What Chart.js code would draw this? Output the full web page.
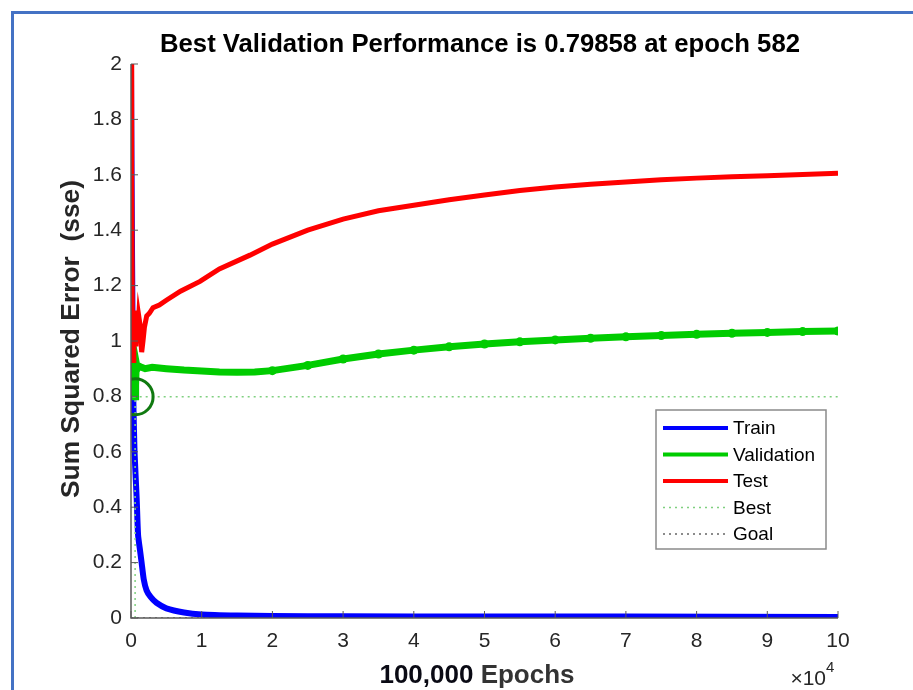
<!DOCTYPE html>
<html>
<head>
<meta charset="utf-8">
<script src="https://cdn.jsdelivr.net/npm/chart.js@4.4.1/dist/chart.umd.min.js"></script>
<style>
html,body{margin:0;padding:0;background:#fff;}
#wrap{position:relative;width:913px;height:690px;}
canvas{display:block;}
</style>
</head>
<body>
<div id="wrap"><canvas id="c" width="913" height="690"></canvas></div>
<script>
// ---- data (x in epochs) ----
const titleText = "Best Validation Performance is 0.79858 at epoch 582";
const yTitle = "Sum Squared Error  (sse)";
const xTitleA = "100,000";
const xTitleB = " Epochs";
const bestEpoch = 582;
const bestValue = 0.79858;
const goalValue = 0;
const maxEpoch = 100000;

const trainEpochs = [0,150,300,500,806,1000,1300,1500,1800,2200,2800,3600,5000,7500,10000,15000,20000,30000,50000,70000,100000];
const trainValues = [2.0,1.3,0.82,0.6,0.43,0.3,0.24,0.2,0.14,0.1,0.075,0.055,0.035,0.02,0.013,0.009,0.007,0.006,0.005,0.005,0.004];

const valEpochs = [0,100,200,300,400,500,582,650,750,900,1100,1500,2000,3000,5000,7500,10000,12500,15000,17500,20000,25000,30000,35000,40000,45000,50000,55000,60000,65000,70000,75000,80000,85000,90000,95000,100000];
const valValues = [1.0,0.93,0.92,0.88,0.84,0.81,0.79858,0.84,0.92,0.9,0.91,0.905,0.9,0.905,0.9,0.895,0.892,0.888,0.887,0.888,0.893,0.912,0.935,0.953,0.967,0.979,0.989,0.997,1.004,1.01,1.015,1.02,1.024,1.028,1.031,1.034,1.036];

const testEpochs = [0,100,200,300,400,500,600,700,806,950,1100,1273,1400,1513,1700,1900,2220,2600,3110,4000,5050,7000,9760,12500,16830,20000,25000,30000,35000,40000,45000,50000,55000,60000,65000,70000,75000,80000,85000,90000,95000,100000];
const testValues = [2.0,1.6,1.05,0.93,1.08,1.0,1.1,0.98,1.11,1.02,1.09,1.06,1.0,0.96,1.0,1.05,1.09,1.1,1.12,1.13,1.148,1.18,1.215,1.26,1.31,1.35,1.40,1.44,1.47,1.49,1.51,1.527,1.543,1.556,1.566,1.574,1.582,1.588,1.593,1.597,1.601,1.606];

const xTickStep = 10000;
const yTickStep = 0.2;

const pts = (xs, ys) => xs.map((x, i) => ({x: x, y: ys[i]}));

const FONT = "'Liberation Sans', Arial, sans-serif";

const PL = 131, PR = 838, PT = 64, PB = 618, W = 913, H = 690;

const decor = {
  id: 'decor',
  afterDatasetsDraw(chart) {
    const ctx = chart.ctx;
    const xs = chart.scales.x, ys = chart.scales.y;
    ctx.save();
    ctx.strokeStyle = '#5a5a5a';
    ctx.lineWidth = 1.5;
    ctx.beginPath();
    ctx.moveTo(xs.left, ys.top); ctx.lineTo(xs.left, ys.bottom); ctx.lineTo(xs.right, ys.bottom);
    ctx.stroke();
    ctx.lineWidth = 1;
    xs.ticks.forEach(t => {
      const px = xs.getPixelForValue(t.value);
      ctx.beginPath(); ctx.moveTo(px, ys.bottom); ctx.lineTo(px, ys.bottom - 7); ctx.stroke();
    });
    ys.ticks.forEach(t => {
      const py = ys.getPixelForValue(t.value);
      ctx.beginPath(); ctx.moveTo(xs.left, py); ctx.lineTo(xs.left + 7, py); ctx.stroke();
    });
    ctx.restore();
  },
  afterDraw(chart) {
    const ctx = chart.ctx;
    ctx.save();
    // frame
    ctx.strokeStyle = '#4472c4';
    ctx.lineWidth = 3;
    ctx.beginPath();
    ctx.moveTo(12.5, H + 5); ctx.lineTo(12.5, 12.5); ctx.lineTo(W + 5, 12.5);
    ctx.stroke();
    // title
    ctx.fillStyle = '#000';
    ctx.font = "bold 25px " + FONT;
    ctx.textAlign = 'center'; ctx.textBaseline = 'middle';
    ctx.save();
    ctx.translate(480, 45);
    const tw = ctx.measureText(titleText).width;
    ctx.scale(640 / tw, 1);
    ctx.fillText(titleText, 0, 0);
    ctx.restore();
    // y title
    ctx.save();
    ctx.translate(72, 339);
    ctx.rotate(-Math.PI / 2);
    ctx.fillStyle = '#262626';
    ctx.font = "bold 25px " + FONT;
    const yw = ctx.measureText(yTitle).width;
    ctx.scale(318 / yw, 1);
    ctx.fillText(yTitle, 0, 0);
    ctx.restore();
    // x title
    ctx.font = "bold 26px " + FONT;
    const wa = ctx.measureText(xTitleA).width, wb = ctx.measureText(xTitleB).width;
    const sx = 477 - (wa + wb) / 2;
    ctx.textAlign = 'left';
    ctx.fillStyle = '#0a0a14';
    ctx.fillText(xTitleA, sx, 676);
    ctx.fillStyle = '#333';
    ctx.fillText(xTitleB, sx + wa, 676);
    // x10^4
    ctx.fillStyle = '#262626';
    ctx.font = "21px " + FONT;
    ctx.textAlign = 'right';
    ctx.fillText("\u00d710", 826, 679);
    ctx.font = "15px " + FONT;
    ctx.textAlign = 'left';
    ctx.fillText("4", 826, 668);
    // legend
    const lx = 656, ly = 410, lw = 170, lh = 139;
    ctx.fillStyle = '#fff';
    ctx.fillRect(lx, ly, lw, lh);
    ctx.strokeStyle = '#8a8a8a';
    ctx.lineWidth = 1.5;
    ctx.strokeRect(lx, ly, lw, lh);
    const items = chart.data.datasets.filter(d => d.showInLegend);
    ctx.font = "19px " + FONT;
    ctx.textBaseline = 'middle';
    items.forEach((d, i) => {
      const y = 428 + i * 26.5;
      ctx.strokeStyle = d.borderColor;
      ctx.lineWidth = d.legendWidth;
      ctx.setLineDash(d.borderDash || []);
      ctx.beginPath(); ctx.moveTo(663, y); ctx.lineTo(728, y); ctx.stroke();
      ctx.setLineDash([]);
      ctx.fillStyle = '#000';
      ctx.fillText(d.label, 733, y + 1);
    });
    ctx.restore();
  }
};

const bead = r => (ctx) => (ctx.raw && ctx.raw.x >= 20000 ? r : 0);

new Chart(document.getElementById('c'), {
  type: 'line',
  data: {
    datasets: [
      {label: 'Train', data: pts(trainEpochs, trainValues), borderColor: '#0000ff', backgroundColor: '#0000ff', borderWidth: 6, pointRadius: 0, order: 6, showInLegend: true, legendWidth: 4, tension: 0.2},
      {label: 'Validation', data: pts(valEpochs, valValues), borderColor: '#00cc00', backgroundColor: '#00cc00', borderWidth: 7, pointRadius: bead(4.5), pointBorderWidth: 0, order: 5, showInLegend: true, legendWidth: 4, tension: 0},
      {label: 'Test', data: pts(testEpochs, testValues), borderColor: '#ff0000', backgroundColor: '#ff0000', borderWidth: 5, pointRadius: 0, order: 4, showInLegend: true, legendWidth: 4, tension: 0},
      {label: 'Best', data: [{x: bestEpoch, y: goalValue}, {x: bestEpoch, y: bestValue}, {x: 0, y: bestValue}, {x: maxEpoch, y: bestValue}], borderColor: '#7fd07f', borderWidth: 1.5, borderDash: [2, 4], pointRadius: 0, order: 3, showInLegend: true, legendWidth: 1.5},
      {label: 'Goal', data: [{x: 0, y: goalValue}, {x: maxEpoch, y: goalValue}], borderColor: '#666', borderWidth: 1.5, borderDash: [2, 4], pointRadius: 0, order: 7, showInLegend: true, legendWidth: 1.5},
      {label: 'BestCircle', data: [{x: bestEpoch, y: bestValue}], showLine: false, borderColor: '#107a10', borderWidth: 3, backgroundColor: 'rgba(0,0,0,0)', pointRadius: 18, pointHoverRadius: 18, order: 1, showInLegend: false}
    ]
  },
  options: {
    responsive: false,
    animation: false,
    events: [],
    layout: {padding: {left: 0, top: PT, right: W - PR, bottom: 0}},
    plugins: {legend: {display: false}, tooltip: {enabled: false}, title: {display: false}},
    scales: {
      x: {
        type: 'linear', min: 0, max: maxEpoch,
        grid: {display: false, drawTicks: false},
        border: {display: false},
        ticks: {stepSize: xTickStep, padding: 11, color: '#262626', font: {family: FONT, size: 21}, callback: v => String(v / 10000), maxRotation: 0, autoSkip: false},
        afterFit: s => { s.height = H - PB; }
      },
      y: {
        type: 'linear', min: 0, max: 2,
        grid: {display: false, drawTicks: false},
        border: {display: false},
        ticks: {stepSize: yTickStep, padding: 9, color: '#262626', font: {family: FONT, size: 21}, callback: v => String(Math.round(v * 10) / 10)},
        afterFit: s => { s.width = PL; }
      }
    }
  },
  plugins: [decor]
});
</script>
</body>
</html>
